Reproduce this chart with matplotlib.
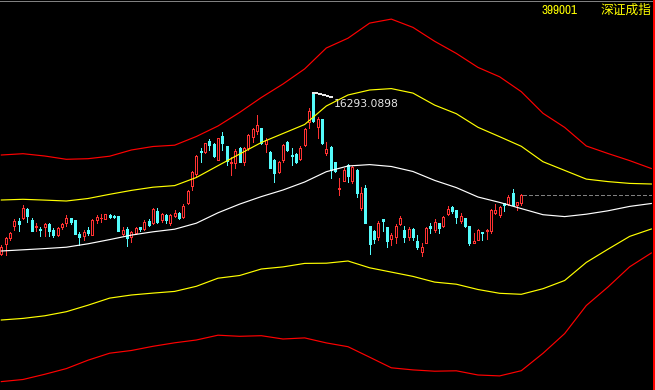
import matplotlib
matplotlib.use("Agg")
import matplotlib.pyplot as plt
import numpy as np
from matplotlib import font_manager
from matplotlib.lines import Line2D
from matplotlib.transforms import IdentityTransform

# ---------------- data ----------------
title_code = "399001"
title_name = "深证成指"

opens = [13079, 13279, 13393, 13645, 13739, 13793, 13979, 13759, 13613, 13579,
         13629, 13679, 13553, 13469, 13619, 13693, 13793, 13759, 13485, 13435,
         13559, 13469, 13759, 13793, 13785, 13865, 13839, 13839, 13489, 13585,
         13413, 13493, 13619, 13573, 13749, 13693, 13939, 13753, 13853, 13693,
         13849, 13893, 13825, 14093, 14439, 14679, 15149, 15119, 15339, 15279,
         14969, 15439, 15239, 14899, 14893, 15199, 14925, 15193, 15425, 15539,
         15593, 15289, 15129, 14959, 14729, 14959, 15319, 15069, 15073, 14979,
         15259, 15729, 16290, 15625, 15783, 15109, 15225, 14913, 14373, 14549,
         14859, 14549, 14759, 13993, 14393, 13639, 13545, 13425, 13773, 13613,
         13373, 13413, 13679, 13559, 13413, 13573, 13339, 13125, 13305, 13639,
         13565, 13693, 13639, 13879, 14025, 13953, 13735, 13793, 13639, 13305,
         13369, 13519, 13539, 13545, 13893, 13859, 14093, 14079, 14299, 14059,
         14099]
highs = [13259, 13425, 13525, 13779, 13793, 14059, 13993, 13799, 13693, 13625,
         13699, 13693, 13593, 13625, 13693, 13859, 13799, 13759, 13519, 13559,
         13619, 13779, 13859, 13879, 13889, 13889, 13869, 13839, 13625, 13619,
         13533, 13619, 13625, 13759, 13773, 13993, 13993, 13893, 13879, 13879,
         13959, 13925, 14073, 14359, 14749, 15069, 15193, 15309, 15379, 15293,
         15399, 15513, 15249, 15019, 15179, 15225, 15225, 15479, 15593, 15859,
         15609, 15399, 15149, 14979, 14949, 15279, 15339, 15193, 15099, 15239,
         15599, 15993, 16293.0898, 15813, 15789, 15325, 15239, 14929, 14593, 14793,
         14879, 14839, 14779, 14419, 14459, 13649, 13559, 13739, 13779, 13619,
         13493, 13679, 13839, 13639, 13613, 13593, 13459, 13305, 13619, 13705,
         13773, 13705, 13839, 14039, 14039, 13959, 13893, 13799, 13649, 13493,
         13579, 13519, 13573, 13973, 14073, 14049, 14093, 14269, 14373, 14125,
         14279]
lows = [13059, 13059, 13359, 13559, 13539, 13773, 13725, 13539, 13545, 13439,
        13445, 13439, 13425, 13439, 13579, 13639, 13689, 13489, 13259, 13359,
        13459, 13469, 13709, 13725, 13773, 13805, 13793, 13549, 13459, 13249,
        13319, 13479, 13539, 13559, 13639, 13679, 13699, 13725, 13705, 13659,
        13819, 13773, 13805, 14073, 14359, 14639, 14925, 15099, 15159, 15029,
        14959, 15159, 14859, 14659, 14793, 14919, 14859, 15169, 15325, 15479,
        15289, 15125, 14799, 14519, 14709, 14919, 15139, 14859, 14899, 14959,
        15239, 15593, 15729, 15393, 15289, 15059, 14609, 14729, 14259, 14539,
        14519, 14493, 14225, 13959, 13705, 13079, 13293, 13359, 13545, 13213,
        13259, 13305, 13659, 13325, 13359, 13359, 13173, 13039, 13305, 13505,
        13525, 13505, 13625, 13859, 13893, 13705, 13699, 13613, 13259, 13305,
        13359, 13359, 13373, 13493, 13879, 13813, 13945, 14059, 14059, 13959,
        14059]
closes = [13225, 13405, 13493, 13739, 13679, 14005, 13845, 13539, 13639, 13559,
          13679, 13545, 13469, 13599, 13673, 13799, 13725, 13489, 13425, 13513,
          13493, 13759, 13829, 13805, 13879, 13825, 13829, 13549, 13565, 13393,
          13513, 13599, 13573, 13725, 13665, 13975, 13725, 13869, 13759, 13859,
          13909, 13809, 14049, 14339, 14713, 15039, 15125, 15293, 15259, 15039,
          15393, 15309, 14939, 14919, 15139, 14925, 15193, 15459, 15573, 15659,
          15293, 15359, 14809, 14693, 14925, 15259, 15159, 15049, 14919, 15209,
          15589, 15949, 15739, 15789, 15293, 15179, 14769, 14739, 14393, 14759,
          14643, 14825, 14293, 14293, 13705, 13279, 13373, 13705, 13739, 13345,
          13459, 13639, 13805, 13413, 13573, 13413, 13225, 13225, 13593, 13605,
          13725, 13599, 13825, 13983, 13945, 13813, 13839, 13639, 13299, 13339,
          13559, 13509, 13559, 13959, 13959, 14013, 14069, 14225, 14069, 14119,
          14259]

# band lines, read every 5 bars (bar index)
band_idx = list(range(0, 151, 5))
mid_line = [13139, 13163, 13187, 13215, 13283, 13367, 13457, 13523, 13575, 13695,
            13903, 14077, 14227, 14359, 14519, 14725, 14839, 14867, 14829, 14729,
            14551, 14407, 14219, 14111, 13987, 13865, 13827, 13875, 13943, 14031,
            14089]
upper_yellow = [14159, 14173, 14157, 14139, 14189, 14273, 14351, 14415, 14447, 14609,
                14845, 15079, 15309, 15489, 15669, 16039, 16259, 16359, 16387, 16297,
                16057, 15885, 15613, 15425, 15233, 14925, 14751, 14577, 14527, 14491,
                14479]
lower_yellow = [11759, 11791, 11843, 11925, 12055, 12197, 12259, 12297, 12331, 12433,
                12595, 12649, 12779, 12821, 12891, 12895, 12939, 12803, 12717, 12631,
                12517, 12475, 12369, 12293, 12273, 12385, 12549, 12911, 13175, 13431,
                13579]
upper_red = [15059, 15085, 15039, 14973, 14985, 15035, 15159, 15229, 15255, 15429,
             15639, 15911, 16209, 16479, 16781, 17199, 17395, 17697, 17777, 17611,
             17333, 17091, 16811, 16623, 16325, 15893, 15611, 15239, 15089, 14947,
             14789]
lower_red = [10527, 10569, 10673, 10787, 10955, 11095, 11149, 11233, 11303, 11359,
             11455, 11433, 11445, 11379, 11401, 11301, 11225, 11015, 10803, 10761,
             10735, 10743, 10659, 10641, 10745, 11093, 11487, 12049, 12419, 12823,
             13099]

# ---------------- style ----------------
UP = "#ff3232"
DOWN = "#54fcfc"
PX = 0.72  # one pixel in points at dpi 100
LW = 0.5

W, H = 655, 390
fig = plt.figure(figsize=(W / 100, H / 100), dpi=100, facecolor="black")
ax = fig.add_axes([0, 0, 652 / W, 1])
ax.set_facecolor("black")
ax.axis("off")
ax.set_xlim(-0.307, 150.16)
ax.set_ylim(10359, 18159)

o = np.array(opens, float)
h = np.array(highs, float)
l = np.array(lows, float)
c = np.array(closes, float)
x = np.arange(len(o))
up = c >= o
cols = np.where(up, UP, DOWN)

ax.vlines(x, l, h, colors=cols, lw=LW, antialiased=False, zorder=2)
bot = np.minimum(o, c)
hgt = np.maximum(np.abs(c - o), 8)
ax.bar(x[up], hgt[up], bottom=bot[up], width=0.46, facecolor="black",
       edgecolor=UP, lw=LW, antialiased=False, zorder=3)
ax.bar(x[~up], hgt[~up], bottom=bot[~up], width=0.46, facecolor=DOWN,
       edgecolor=DOWN, lw=LW, antialiased=False, zorder=3)

for vals, col in [(upper_red, "#ff0000"), (lower_red, "#ff0000"),
                  (upper_yellow, "#ffff00"), (lower_yellow, "#ffff00"),
                  (mid_line, "#ffffff")]:
    ax.plot(band_idx, vals, color=col, lw=0.85, antialiased=True, zorder=4,
            solid_joinstyle="miter")

# last close dashed line
ax.hlines(c[-1], x[-1] + 0.35, 150.16, colors="#808080", lw=LW,
          linestyles=(0, (5.5, 3)), antialiased=False, zorder=1)

# peak annotation
pk = int(np.argmax(h))
px, py = ax.transData.transform((pk, h[pk]))
fig.add_artist(Line2D([px, px + 4, px + 19], [py, py, py - 4], transform=IdentityTransform(),
                      color="#e8e8e8", lw=LW, antialiased=False))
ax.annotate(f"{h[pk]:.4f}", xy=(pk, h[pk]), xytext=(20, -10.7), textcoords="offset pixels",
            ha="left", va="center", color="#e6e6e6", fontsize=7.75, family="DejaVu Sans")

# title
names = sorted({f.name for f in font_manager.fontManager.ttflist})
narrow = [n for n in names if "Narrow" in n or "Condensed" in n]
if narrow:
    digit_font, digit_size = narrow[0], 9.5
else:
    digit_font, digit_size = "Liberation Sans", 7.2
fig.text(577 / W, 1 - 13.5 / H, title_code, color="#ffff00", fontsize=digit_size,
         family=digit_font, ha="right", va="baseline")
fig.text(651.5 / W, 1 - 14.2 / H, title_name, color="#ffff00", fontsize=9.2,
         family=["Noto Sans CJK SC", "DejaVu Sans"], ha="right", va="baseline")

# frame lines
fig.add_artist(Line2D([0, 1], [1 - 1 / H, 1 - 1 / H], transform=fig.transFigure,
                      color="#808080", lw=LW, antialiased=False))
fig.add_artist(Line2D([653.5 / W, 653.5 / W], [0, 1], transform=fig.transFigure,
                      color="#ff0000", lw=2 * PX, antialiased=False))

fig.savefig("out.png", dpi=100, facecolor="black")
